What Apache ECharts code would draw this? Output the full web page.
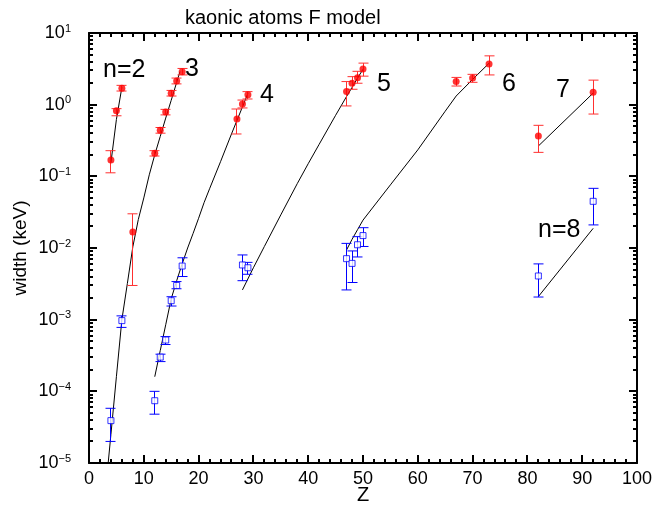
<!DOCTYPE html>
<html>
<head>
<meta charset="utf-8">
<script src="https://cdn.jsdelivr.net/npm/echarts/dist/echarts.min.js"></script>
<style>
  html, body { margin: 0; padding: 0; background: #fff; }
  #chart { width: 654px; height: 511px; }
</style>
</head>
<body>
<div id="chart"></div>
<script>
// Kaonic atom level widths: measured lower/upper level widths and F-model curves per n.
const FONT = '"Liberation Sans", Arial, Helvetica, sans-serif';

// measured lower-level widths (keV), filled circles
const lowerZ      = [4, 5, 6, 8, 12, 13, 14, 15, 16, 17, 27, 28, 29, 47, 48, 49, 50, 67, 70, 73, 82, 92];
const lowerWidth  = [0.169, 0.82, 1.69, 0.0167, 0.21, 0.44, 0.79, 1.44, 2.14, 2.88, 0.63, 1.02, 1.37, 1.53, 1.99, 2.38, 3.15, 2.1, 2.35, 3.69, 0.366, 1.49];
const lowerErrLo  = [0.112, 0.70, 1.55, 0.0030, 0.192, 0.40, 0.72, 1.32, 1.95, 2.6, 0.39, 0.90, 1.2, 0.96, 1.64, 1.99, 2.5, 1.82, 2.05, 2.6, 0.216, 0.74];
const lowerErrHi  = [0.228, 0.88, 1.86, 0.030, 0.228, 0.48, 0.86, 1.58, 2.35, 3.2, 0.87, 1.16, 1.52, 2.1, 2.46, 2.92, 3.8, 2.4, 2.65, 4.8, 0.515, 2.2];

// measured upper-level widths (keV), open squares
const upperZ      = [4, 6, 12, 13, 14, 15, 16, 17, 28, 29, 47, 48, 49, 50, 82, 92];
const upperWidth  = [3.9e-5, 9.7e-4, 7.4e-5, 3.0e-4, 5.2e-4, 1.84e-3, 3.0e-3, 5.6e-3, 5.8e-3, 5.3e-3, 7.1e-3, 6.1e-3, 0.0111, 0.0149, 4.07e-3, 0.0448];
const upperErrLo  = [2.0e-5, 7.8e-4, 4.8e-5, 2.6e-4, 4.5e-4, 1.55e-3, 2.7e-3, 4.0e-3, 3.5e-3, 4.3e-3, 2.6e-3, 3.3e-3, 7.5e-3, 0.0105, 2.07e-3, 0.021];
const upperErrHi  = [5.8e-5, 1.13e-3, 1.0e-4, 3.3e-4, 5.8e-4, 2.09e-3, 3.4e-3, 7.3e-3, 8.0e-3, 6.3e-3, 0.0116, 9.1e-3, 0.0144, 0.0192, 6.0e-3, 0.068];

// F-model widths for each principal quantum number n
const n2Z = [4, 5, 6];
const n2Width = [0.155, 0.62, 1.75];
const n3Z = [3.5, 4, 5, 6, 7, 8, 9, 10, 11, 12, 13, 14, 15, 16, 16.6];
const n3Width = [1.0e-5, 2.5e-5, 1.6e-4, 1.0e-3, 3.2e-3, 0.0104, 0.025, 0.050, 0.105, 0.20, 0.36, 0.65, 1.15, 2.05, 2.9];
const n4Z = [12, 13, 14, 15, 16, 17, 18, 19, 20, 21, 22, 24, 26, 28, 29];
const n4Width = [1.6e-4, 3.7e-4, 8.5e-4, 1.95e-3, 3.5e-3, 6.0e-3, 0.010, 0.016, 0.026, 0.043, 0.067, 0.16, 0.39, 0.93, 1.44];
const n5Z = [28, 30, 32, 35, 38, 40, 42, 45, 47, 48, 49, 50];
const n5Width = [2.6e-3, 5.3e-3, 0.0105, 0.029, 0.079, 0.150, 0.28, 0.71, 1.30, 1.74, 2.34, 3.12];
const n6Z = [47, 48, 49, 50, 55, 60, 65, 67, 70, 73];
const n6Width = [9.4e-3, 0.0132, 0.018, 0.0245, 0.076, 0.234, 0.81, 1.32, 2.25, 3.78];
const n7Z = [82, 92];
const n7Width = [0.265, 1.45];
const n8Z = [82, 92];
const n8Width = [2.1e-3, 0.0188];

// curve labels
const curveLabels = ['n=2', '3', '4', '5', '6', '7', 'n=8'];

// axis ranges and tick labels
const zMin = 0, zMax = 100, zStep = 10, zMinorStep = 2;
const widthMin = 1e-5, widthMax = 10;
const decadeExponents = [-5, -4, -3, -2, -1, 0, 1];

const zip = (xs, ys) => xs.map((x, i) => [x, ys[i]]);
const supText = e => (e < 0 ? '\u2212' + (-e) : String(e));

// frame tick positions: [value, isMajor]
const zTicks = [];
for (let z = zMin; z <= zMax; z += zMinorStep) zTicks.push([z, z % zStep === 0 ? 1 : 0]);
const wTicks = [];
decadeExponents.forEach(e => {
  const base = Math.pow(10, e);
  wTicks.push([base, 1]);
  if (e < 1) for (let m = 2; m <= 9; m++) wTicks.push([m * base, 0]);
});

const FRAME_W = 2;
const MAJOR_LEN = 8, MINOR_LEN = 4;
const crisp1 = v => Math.round(v - 0.5) + 0.5;
const tickStyle = { stroke: '#000', lineWidth: FRAME_W };

function modelLine(name, zs, ws) {
  return {
    name, type: 'line', data: zip(zs, ws), symbol: 'none', silent: true,
    lineStyle: { color: '#000', width: 1 }, z: 2, clip: true
  };
}

function errorBars(zs, lo, hi, color) {
  return {
    type: 'custom', silent: true, z: 3,
    data: zs.map((z, i) => [z, lo[i], hi[i]]),
    encode: { x: 0, y: [1, 2] },
    renderItem(params, api) {
      const z = api.value(0);
      const a = api.coord([z, api.value(1)]);
      const b = api.coord([z, api.value(2)]);
      const hw = 5;
      const st = { stroke: color, lineWidth: 1 };
      const x = crisp1(a[0]);
      return {
        type: 'group',
        children: [
          { type: 'line', shape: { x1: x, y1: a[1], x2: x, y2: b[1] }, style: st },
          { type: 'line', shape: { x1: x - hw, y1: a[1], x2: x + hw, y2: a[1] }, style: st },
          { type: 'line', shape: { x1: x - hw, y1: b[1], x2: x + hw, y2: b[1] }, style: st }
        ]
      };
    }
  };
}

const chart = echarts.init(document.getElementById('chart'), null, { renderer: 'canvas' });

const axisLineStyle = { color: '#000', width: FRAME_W };
const tickLabelStyle = { color: '#000', fontSize: 18, fontFamily: FONT };

function plainAxis(extra) {
  return Object.assign({
    axisLine: { show: true, onZero: false, lineStyle: axisLineStyle },
    axisTick: { show: false },
    minorTick: { show: false },
    splitLine: { show: false },
    axisLabel: { show: false }
  }, extra);
}

const labelText = (text, left, top) => ({
  type: 'text', left, top, z: 10,
  style: { text, fontSize: 25, fontFamily: FONT, fill: '#000' }
});

const option = {
  animation: false,
  backgroundColor: '#fff',
  title: {
    text: 'kaonic atoms F model',
    left: 180, top: 3,
    textStyle: { fontSize: 20, fontWeight: 'normal', color: '#000', fontFamily: FONT }
  },
  grid: { left: 89, right: 17, top: 33, bottom: 48, containLabel: false, outerBoundsMode: 'none' },
  xAxis: [
    plainAxis({
      type: 'value', min: zMin, max: zMax, interval: zStep, position: 'bottom',
      axisLabel: Object.assign({ show: true, margin: 7 }, tickLabelStyle),
      name: 'Z', nameLocation: 'middle', nameGap: 22, nameMoveOverlap: false,
      nameTextStyle: { color: '#000', fontSize: 20, fontFamily: FONT }
    }),
    plainAxis({ type: 'value', min: zMin, max: zMax, interval: zStep, position: 'top' })
  ],
  yAxis: [
    plainAxis({
      type: 'log', logBase: 10, min: widthMin, max: widthMax, interval: 1, position: 'left',
      axisLabel: {
        show: true,
        margin: 18,
        formatter: v => {
          const e = Math.round(Math.log10(v));
          return decadeExponents.includes(e) ? '{b|10}{s|' + supText(e) + '}' : '';
        },
        rich: {
          b: { fontSize: 18, fontFamily: FONT, color: '#000', lineHeight: 20 },
          s: { fontSize: 11, fontFamily: FONT, color: '#000', verticalAlign: 'top', lineHeight: 20 }
        }
      },
      name: 'width (keV)', nameLocation: 'middle', nameGap: 59, nameMoveOverlap: false,
      nameTextStyle: { color: '#000', fontSize: 19, fontFamily: FONT }
    }),
    plainAxis({ type: 'log', logBase: 10, min: widthMin, max: widthMax, interval: 1, position: 'right' })
  ],
  graphic: [
    labelText(curveLabels[0], 103, 58),
    labelText(curveLabels[1], 185, 57),
    labelText(curveLabels[2], 260, 83),
    labelText(curveLabels[3], 377, 72),
    labelText(curveLabels[4], 502, 72),
    labelText(curveLabels[5], 556, 78),
    labelText(curveLabels[6], 538, 218)
  ],
  series: [
    // Z ticks on the bottom and top frame edges
    {
      type: 'custom', silent: true, z: 5,
      data: zTicks.map(t => [t[0], widthMin, t[1]]),
      encode: { x: 0, y: 1 },
      renderItem(params, api) {
        const z = api.value(0);
        const len = api.value(2) ? MAJOR_LEN : MINOR_LEN;
        const b = api.coord([z, widthMin]);
        const t = api.coord([z, widthMax]);
        const x = Math.round(b[0]);
        return {
          type: 'group',
          children: [
            { type: 'line', shape: { x1: x, y1: b[1], x2: x, y2: b[1] - len }, style: tickStyle },
            { type: 'line', shape: { x1: x, y1: t[1], x2: x, y2: t[1] + len }, style: tickStyle }
          ]
        };
      }
    },
    // width ticks on the left and right frame edges
    {
      type: 'custom', silent: true, z: 5,
      data: wTicks.map(t => [zMin, t[0], t[1]]),
      encode: { x: 0, y: 1 },
      renderItem(params, api) {
        const v = api.value(1);
        const len = api.value(2) ? MAJOR_LEN : MINOR_LEN;
        const l = api.coord([zMin, v]);
        const r = api.coord([zMax, v]);
        const y = Math.round(l[1]);
        return {
          type: 'group',
          children: [
            { type: 'line', shape: { x1: l[0], y1: y, x2: l[0] + len, y2: y }, style: tickStyle },
            { type: 'line', shape: { x1: r[0], y1: y, x2: r[0] - len, y2: y }, style: tickStyle }
          ]
        };
      }
    },
    modelLine('n=2', n2Z, n2Width),
    modelLine('n=3', n3Z, n3Width),
    modelLine('n=4', n4Z, n4Width),
    modelLine('n=5', n5Z, n5Width),
    modelLine('n=6', n6Z, n6Width),
    modelLine('n=7', n7Z, n7Width),
    modelLine('n=8', n8Z, n8Width),
    errorBars(lowerZ, lowerErrLo, lowerErrHi, '#ff3030'),
    errorBars(upperZ, upperErrLo, upperErrHi, '#0000ff'),
    {
      name: 'lower level', type: 'scatter', data: zip(lowerZ, lowerWidth),
      symbol: 'circle', symbolSize: 7, z: 4, silent: true,
      itemStyle: { color: '#ff0000' }
    },
    {
      name: 'upper level', type: 'scatter', data: zip(upperZ, upperWidth),
      symbol: 'rect', symbolSize: 6, z: 4, silent: true,
      itemStyle: { color: '#fff', borderColor: '#0000ff', borderWidth: 1 }
    }
  ]
};

chart.setOption(option);
</script>
</body>
</html>
